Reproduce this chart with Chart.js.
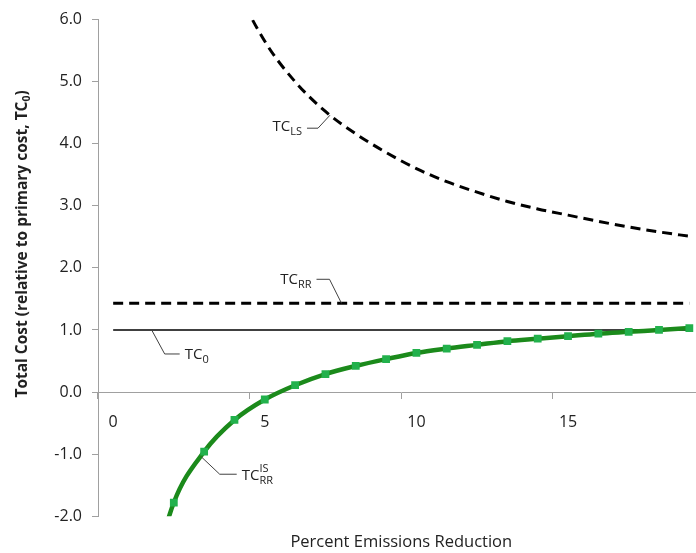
<!DOCTYPE html>
<html>
<head>
<meta charset="utf-8">
<script src="https://cdn.jsdelivr.net/npm/chart.js@4"></script>
<style>
  html, body { margin: 0; padding: 0; background: #fff; overflow: hidden; }
  #wrap { width: 696px; height: 553px; overflow: hidden; }
</style>
</head>
<body>
<div id="wrap"><canvas id="chart" width="710" height="553"></canvas></div>
<script>
// percent emissions reduction (category axis)
var pctReduction = ['0','1','2','3','4','5','6','7','8','9','10','11','12','13','14','15','16','17','18','19'];

// total cost relative to primary cost
var tc0   = [1.0,1.0,1.0,1.0,1.0,1.0,1.0,1.0,1.0,1.0,1.0,1.0,1.0,1.0,1.0,1.0,1.0,1.0,1.0,1.0];
var tcRR  = [1.43,1.43,1.43,1.43,1.43,1.43,1.43,1.43,1.43,1.43,1.43,1.43,1.43,1.43,1.43,1.43,1.43,1.43,1.43,1.43];
var tcLS  = [null,null,null,7.9,6.6,5.65,5.0,4.52,4.16,3.86,3.6,3.39,3.22,3.07,2.95,2.85,2.75,2.66,2.58,2.51];
var tcRRis = [null,-3.5,-1.78,-0.96,-0.45,-0.12,0.11,0.29,0.42,0.53,0.63,0.70,0.76,0.82,0.86,0.90,0.94,0.97,1.00,1.03];

var yTicks = [-2, -1, 0, 1, 2, 3, 4, 5, 6];

var FONT = '"Open Sans", "DejaVu Sans", sans-serif';
var TXT = '#222222';
var AXIS = '#a0a0a0';

function drawTC(ctx, x, y, sub, sup, align) {
	ctx.font = '15px ' + FONT;
	var wMain = ctx.measureText('TC').width;
	ctx.font = '11px ' + FONT;
	var wSmall = Math.max(sub ? ctx.measureText(sub).width : 0, sup ? ctx.measureText(sup).width : 0);
	var x0 = align === 'right' ? x - wMain - wSmall : x;
	ctx.fillStyle = TXT;
	ctx.textAlign = 'left';
	ctx.textBaseline = 'alphabetic';
	ctx.font = '15px ' + FONT;
	ctx.fillText('TC', x0, y);
	ctx.font = '11px ' + FONT;
	if (sub) ctx.fillText(sub, x0 + wMain, y + 4);
	if (sup) ctx.fillText(sup, x0 + wMain, y - 8);
}

function leader(ctx, pts) {
	ctx.beginPath();
	ctx.moveTo(pts[0][0], pts[0][1]);
	for (var i = 1; i < pts.length; i++) ctx.lineTo(pts[i][0], pts[i][1]);
	ctx.strokeStyle = '#404040';
	ctx.lineWidth = 1;
	ctx.stroke();
}

var labelPlugin = {
	id: 'curveLabels',
	afterDraw: function(chart) {
		var ctx = chart.ctx;
		var xs = chart.scales.x, ys = chart.scales.y;
		ctx.save();

		// TC_LS
		var ax = xs.getPixelForValue(7.15), ay = ys.getPixelForValue(4.46);
		leader(ctx, [[ax, ay], [ax - 12, ay + 13], [ax - 23, ay + 13]]);
		drawTC(ctx, ax - 28, ay + 16, 'LS', null, 'right');

		// TC_RR
		ax = xs.getPixelForValue(7.53); ay = ys.getPixelForValue(1.43);
		leader(ctx, [[ax, ay], [ax - 12, ay - 24], [ax - 25, ay - 24]]);
		drawTC(ctx, ax - 30, ay - 19, 'RR', null, 'right');

		// TC_0
		ax = xs.getPixelForValue(1.27); ay = ys.getPixelForValue(1.0);
		leader(ctx, [[ax, ay], [ax + 13, ay + 24], [ax + 28, ay + 24]]);
		drawTC(ctx, ax + 33, ay + 29, '0', null, 'left');

		// TC_RR^IS
		ax = xs.getPixelForValue(2.92); ay = ys.getPixelForValue(-1.05);
		leader(ctx, [[ax, ay], [ax + 18, ay + 17], [ax + 35, ay + 17]]);
		drawTC(ctx, ax + 40, ay + 23, 'RR', 'IS', 'left');

		// y axis title with subscript
		var main = 'Total Cost (relative to primary cost, TC';
		ctx.font = 'bold 15.5px ' + FONT;
		var w1 = ctx.measureText(main).width;
		var w3 = ctx.measureText(')').width;
		ctx.font = 'bold 10.5px ' + FONT;
		var w2 = ctx.measureText('0').width;
		var cy = (chart.chartArea.top + chart.chartArea.bottom) / 2 - 24;
		ctx.translate(23, cy);
		ctx.rotate(-Math.PI / 2);
		var sx = -(w1 + w2 + w3) / 2;
		ctx.fillStyle = TXT;
		ctx.textAlign = 'left';
		ctx.textBaseline = 'middle';
		ctx.font = 'bold 15.5px ' + FONT;
		ctx.fillText(main, sx, 0);
		ctx.font = 'bold 10.5px ' + FONT;
		ctx.fillText('0', sx + w1, 4);
		ctx.font = 'bold 15.5px ' + FONT;
		ctx.fillText(')', sx + w1 + w2, 0);
		ctx.restore();
	}
};

new Chart(document.getElementById('chart'), {
	type: 'line',
	data: {
		labels: pctReduction,
		datasets: [
			{
				label: 'TC RR IS',
				data: tcRRis,
				borderColor: '#1b8a1b',
				borderWidth: 4.5,
				cubicInterpolationMode: 'monotone',
				pointStyle: 'rect',
				pointRadius: 5.5,
				pointBackgroundColor: '#22b14c',
				pointBorderWidth: 0,
				fill: false
			},
			{
				label: 'TC 0',
				data: tc0,
				borderColor: '#000',
				borderWidth: 1.5,
				pointRadius: 0,
				fill: false
			},
			{
				label: 'TC RR',
				data: tcRR,
				borderColor: '#000',
				borderWidth: 3,
				borderDash: [10, 6],
				pointRadius: 0,
				fill: false
			},
			{
				label: 'TC LS',
				data: tcLS,
				borderColor: '#000',
				borderWidth: 3,
				borderDash: [10, 6],
				cubicInterpolationMode: 'monotone',
				pointRadius: 0,
				fill: false
			}
		]
	},
	options: {
		responsive: false,
		animation: false,
		devicePixelRatio: 1,
		layout: { padding: { top: 12, right: 1, bottom: 1, left: 0 } },
		plugins: {
			legend: { display: false },
			tooltip: { enabled: false },
			title: {
				display: true,
				fullSize: false,
				text: 'Percent Emissions Reduction',
				position: 'bottom',
				color: TXT,
				font: { family: FONT, size: 16.5, weight: 'normal' },
				padding: { top: 16, bottom: 0 }
			}
		},
		scales: {
			x: {
				type: 'category',
				offset: true,
				position: { y: 0 },
				border: { color: AXIS, width: 1 },
				grid: {
					offset: true,
					drawOnChartArea: false,
					drawTicks: true,
					tickLength: 6,
					color: function(c) { return c.index % 5 === 0 ? AXIS : 'rgba(0,0,0,0)'; }
				},
				ticks: {
					autoSkip: false,
					maxRotation: 0,
					padding: 15,
					color: TXT,
					font: { family: FONT, size: 16 },
					callback: function(v, i) { return i % 5 === 0 ? this.getLabelForValue(v) : ''; }
				}
			},
			y: {
				min: -2,
				max: 6,
				afterBuildTicks: function(s) { s.ticks = yTicks.map(function(v) { return { value: v }; }); },
				afterFit: function(s) { s.width = 98; },
				border: { color: AXIS, width: 1 },
				grid: { drawOnChartArea: false, drawTicks: true, tickLength: 6, color: AXIS },
				ticks: {
					padding: 10,
					color: TXT,
					font: { family: FONT, size: 16 },
					callback: function(v) { return v.toFixed(1); }
				}
			}
		}
	},
	plugins: [labelPlugin]
});
</script>
</body>
</html>
